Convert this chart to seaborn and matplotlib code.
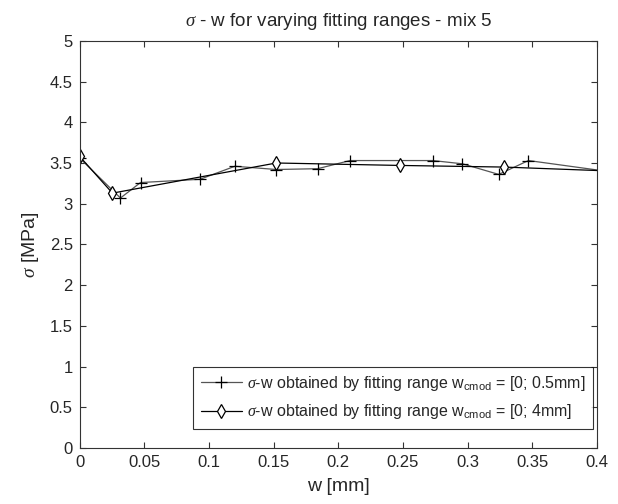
import matplotlib
matplotlib.use('Agg')
import matplotlib.pyplot as plt
import seaborn as sns

# sigma - w data (w in mm, sigma in MPa)
w_short = [0.0, 0.0315, 0.047, 0.093, 0.120, 0.152, 0.184, 0.209, 0.273, 0.296, 0.324, 0.347, 0.425]
sigma_short = [3.56, 3.07, 3.26, 3.30, 3.46, 3.42, 3.43, 3.53, 3.53, 3.49, 3.36, 3.53, 3.36]

w_long = [0.0, 0.0253, 0.152, 0.2475, 0.328, 0.43]
sigma_long = [3.58, 3.13, 3.50, 3.47, 3.45, 3.39]

label_short = r'$\sigma$-w obtained by fitting range w$_{\mathrm{cmod}}$ = [0; 0.5mm]'
label_long = r'$\sigma$-w obtained by fitting range w$_{\mathrm{cmod}}$ = [0; 4mm]'

x_ticks = [0, 0.05, 0.1, 0.15, 0.2, 0.25, 0.3, 0.35, 0.4]
x_ticklabels = ['0', '0.05', '0.1', '0.15', '0.2', '0.25', '0.3', '0.35', '0.4']
y_ticks = [0, 0.5, 1, 1.5, 2, 2.5, 3, 3.5, 4, 4.5, 5]
y_ticklabels = ['0', '0.5', '1', '1.5', '2', '2.5', '3', '3.5', '4', '4.5', '5']

sns.set_theme(style='ticks')
plt.rcParams['font.family'] = ['Liberation Sans', 'DejaVu Sans']
plt.rcParams['mathtext.fontset'] = 'custom'
plt.rcParams['mathtext.rm'] = 'Liberation Sans'
plt.rcParams['mathtext.it'] = 'Liberation Serif:italic'
plt.rcParams['axes.edgecolor'] = '#333333'
plt.rcParams['axes.linewidth'] = 0.8

fig = plt.figure(figsize=(6.18, 5.04), dpi=100)
ax = fig.add_axes([0.129, 0.111, 0.837, 0.808])

sns.lineplot(x=w_short, y=sigma_short, ax=ax, sort=False, color='#555555',
             marker='+', markersize=8, markeredgecolor='black', markeredgewidth=0.9,
             linewidth=0.9, label=label_short)
sns.lineplot(x=w_long, y=sigma_long, ax=ax, sort=False, color='black',
             marker='d', markersize=7, markerfacecolor='white', markeredgecolor='black',
             markeredgewidth=0.9, linewidth=0.9, label=label_long)

ax.set_xlim(0, 0.4)
ax.set_ylim(0, 5)
ax.set_xticks(x_ticks)
ax.set_xticklabels(x_ticklabels)
ax.set_yticks(y_ticks)
ax.set_yticklabels(y_ticklabels)
ax.tick_params(direction='in', top=True, right=True, length=4, width=0.8,
               labelsize=12, color='#333333', pad=5)

ax.set_xlabel('w [mm]', fontsize=14, labelpad=6)
ax.set_ylabel(r'$\sigma$ [MPa]', fontsize=14, labelpad=6)
ax.set_title(r'$\sigma$ - w for varying fitting ranges - mix 5', fontsize=13.5, pad=11)

leg = ax.legend(loc='lower right', bbox_to_anchor=(0.992, 0.048), fontsize=11.5,
                frameon=True, fancybox=False, edgecolor='black', borderaxespad=0,
                handlelength=2.6, handletextpad=0.3, labelspacing=0.6, borderpad=0.45)
leg.get_frame().set_linewidth(0.8)

fig.savefig('out.png', dpi=100)
